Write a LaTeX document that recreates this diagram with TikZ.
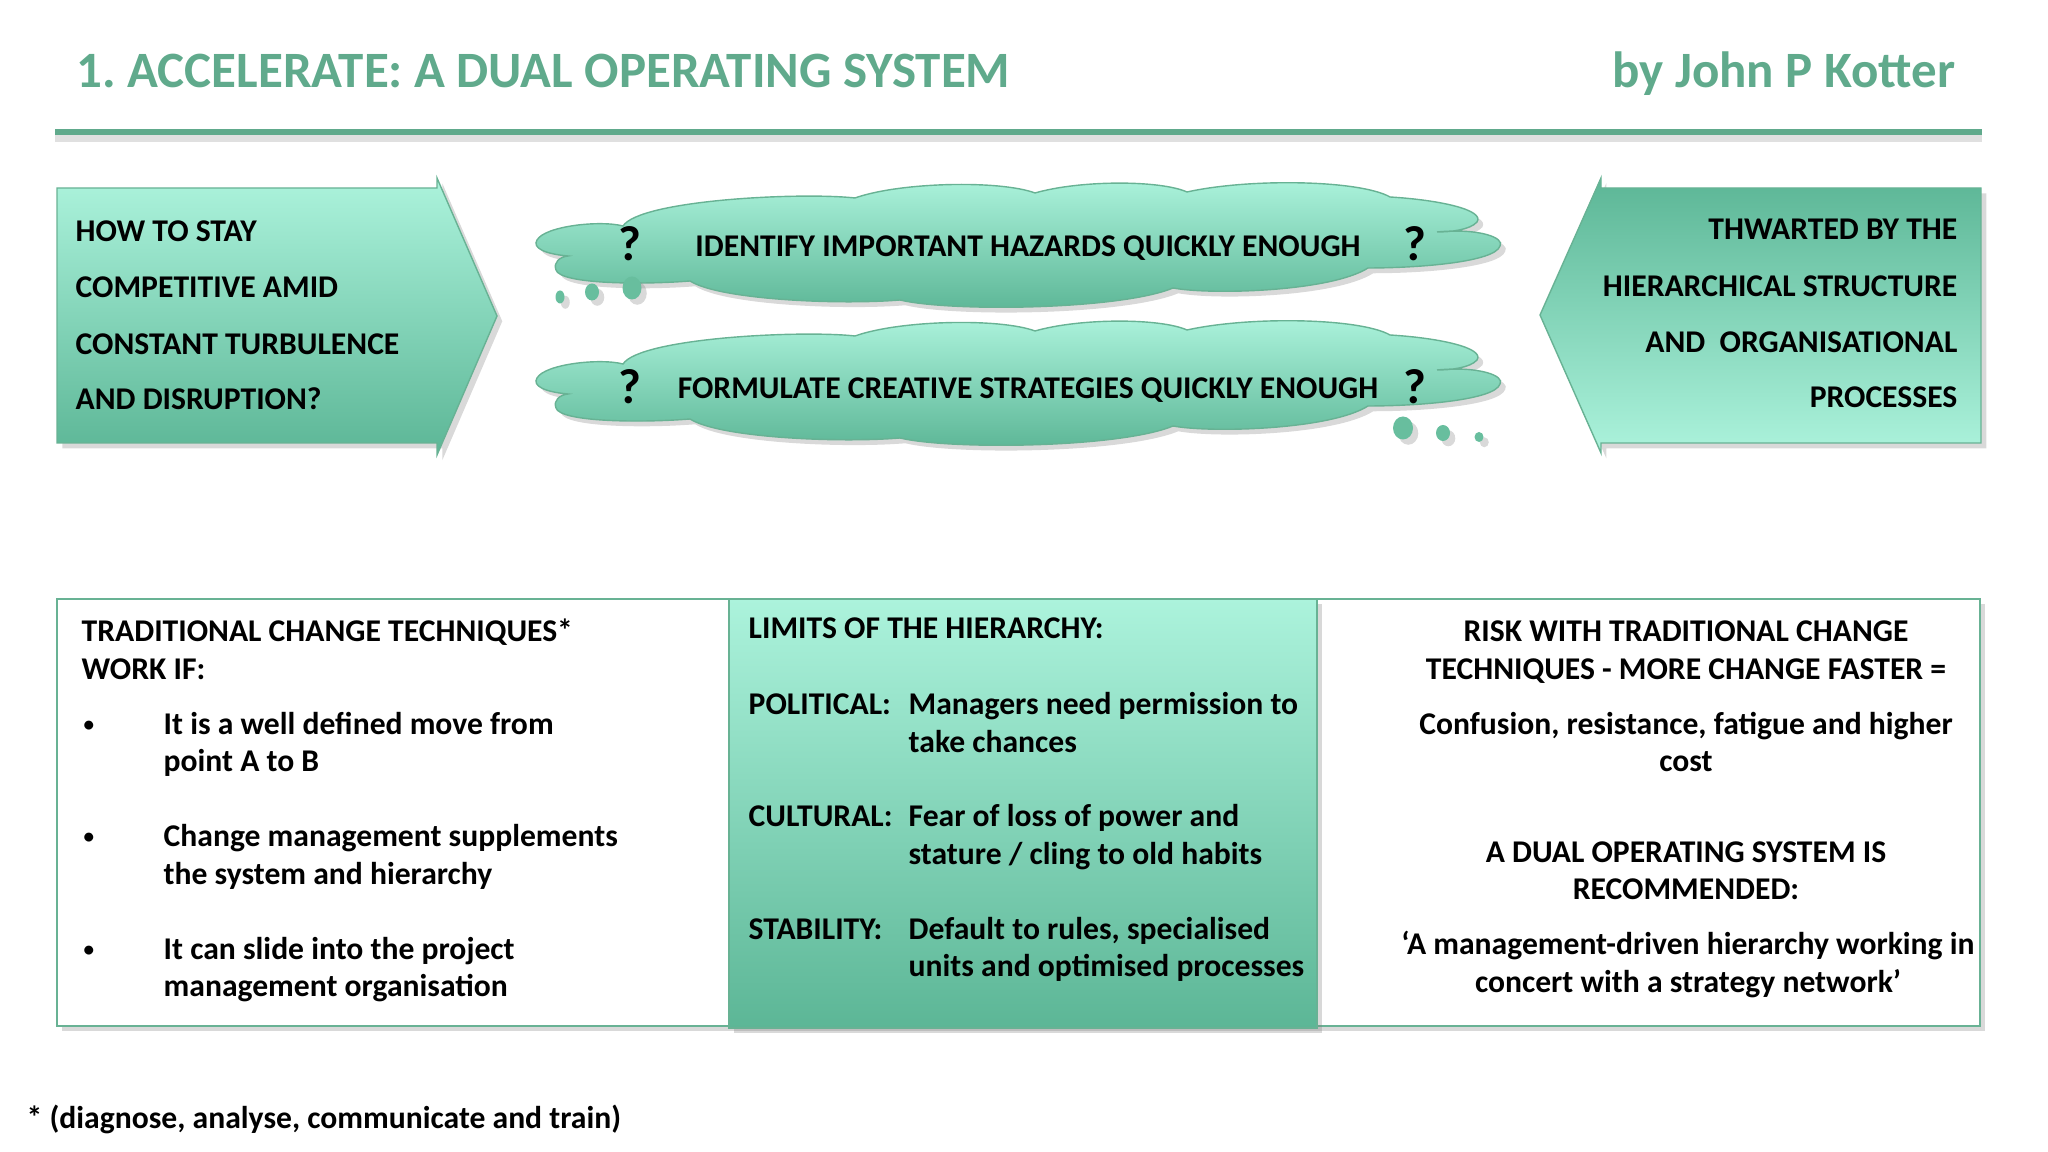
\documentclass[tikz,border=0pt]{standalone}
\usepackage{fontspec}
\setmainfont{Carlito}
\usepackage{xcolor}
\usetikzlibrary{shadows}

\definecolor{kgreen}{RGB}{96,170,140}
\definecolor{mintlight}{RGB}{172,243,220}
\definecolor{mintdark}{RGB}{92,182,150}
\definecolor{mintedge}{RGB}{104,178,148}
\definecolor{bubblegreen}{RGB}{104,190,158}

\tikzset{
  txt/.style={font=\bfseries\fontsize{9}{11}\selectfont, inner sep=0pt, anchor=base west},
  txtr/.style={txt, anchor=base east},
  txtc/.style={txt, anchor=base},
  headtxt/.style={txt, font=\bfseries\fontsize{14.5}{17}\selectfont, text=kgreen},
  qmark/.style={font=\bfseries\fontsize{14}{16}\selectfont, inner sep=0pt},
  shadowed/.style={drop shadow={opacity=0.3, shadow xshift=1.5pt, shadow yshift=-1.5pt}},
}
\newcommand{\smallbullet}{{\fontsize{6}{7}\selectfont\raisebox{0.9pt}{•}}}

\begin{document}
\frenchspacing
\begin{tikzpicture}[x=0.1mm, y=-0.1mm]
    \useasboundingbox (0,0) rectangle (2048,1152);

    % title and rule
    \node[headtxt] (title) at (76,88) {1. ACCELERATE: A DUAL OPERATING SYSTEM};
    \node[headtxt, anchor=base east] (author) at (1956,88) {by John P Kotter};
    \fill[black!12] (55,135) rectangle (1982,142);
    \fill[kgreen] (55,129) rectangle (1982,135);

    % left arrow
    \shade[top color=mintlight, bottom color=mintdark, draw=mintedge, shadowed]
        (57,188) -- (437,188) -- (437,178) -- (497,316) -- (437,455) -- (437,443) -- (57,443) -- cycle;
    \node[txt] (stay1) at (75,242) {HOW TO STAY};
    \node[txt] (stay2) at (75,298) {COMPETITIVE AMID};
    \node[txt] (stay3) at (75,355) {CONSTANT TURBULENCE};
    \node[txt] (stay4) at (75,410) {AND DISRUPTION?};

    % right arrow
    \shade[top color=mintdark, bottom color=mintlight, draw=mintedge, shadowed]
        (1981,188) -- (1601,188) -- (1601,178) -- (1540,315) -- (1601,453) -- (1601,443) -- (1981,443) -- cycle;
    \node[txtr] (thw1) at (1958,240) {THWARTED BY THE};
    \node[txtr] (thw2) at (1958,297) {HIERARCHICAL STRUCTURE};
    \node[txtr] (thw3) at (1958,353) {AND\ \ ORGANISATIONAL};
    \node[txtr] (thw4) at (1958,408) {PROCESSES};

    % thought clouds
    \foreach \dy in {0,138} {
      \begin{scope}[shift={(0,\dy)}]
        \shade[top color=mintlight, bottom color=mintdark, draw=mintedge, shadowed]
          (623,226) .. controls (640,200) and (800,192) .. (855,198)
          .. controls (900,182) and (1000,180) .. (1035,193)
          .. controls (1080,180) and (1160,180) .. (1187,192)
          .. controls (1250,178) and (1360,180) .. (1390,197)
          .. controls (1440,200) and (1485,210) .. (1477,222)
          .. controls (1470,230) and (1450,232) .. (1437,232)
          .. controls (1480,228) and (1505,238) .. (1500,246)
          .. controls (1495,262) and (1420,268) .. (1368,268)
          .. controls (1330,292) and (1210,295) .. (1173,288)
          .. controls (1120,310) and (950,312) .. (900,300)
          .. controls (840,305) and (720,300) .. (690,281)
          .. controls (640,285) and (560,284) .. (556,270)
          .. controls (553,262) and (560,257) .. (568,256)
          .. controls (545,254) and (532,248) .. (537,240)
          .. controls (545,226) and (600,220) .. (623,226) -- cycle;
      \end{scope}
    }
    \node[txtc] (hazards) at (1028,257) {IDENTIFY IMPORTANT HAZARDS QUICKLY ENOUGH};
    \node[txtc] (strategies) at (1028,399) {FORMULATE CREATIVE STRATEGIES QUICKLY ENOUGH};
    \node[qmark] (qA1) at (630,244) {?};
    \node[qmark] (qA2) at (1415,244) {?};
    \node[qmark] (qB1) at (630,387) {?};
    \node[qmark] (qB2) at (1415,387) {?};
    \fill[bubblegreen, shadowed] (560,297) ellipse [x radius=0.45mm, y radius=0.65mm];
    \fill[bubblegreen, shadowed] (592,292) ellipse [x radius=0.7mm, y radius=0.85mm];
    \fill[bubblegreen, shadowed] (632,288) ellipse [x radius=0.95mm, y radius=1.15mm];
    \fill[bubblegreen, shadowed] (1403,428) ellipse [x radius=1mm, y radius=1.15mm];
    \fill[bubblegreen, shadowed] (1443,433) ellipse [x radius=0.7mm, y radius=0.8mm];
    \fill[bubblegreen, shadowed] (1479,437) ellipse [x radius=0.45mm, y radius=0.5mm];

    % bottom panels
    \draw[mintedge, line width=0.8pt, fill=white, shadowed] (57,599) rectangle (1980,1026);
    \shade[top color=mintlight, bottom color=mintdark, draw=mintedge, shadowed] (729,599) rectangle (1317,1028);

    \node[txt] (tradA) at (81,642) {TRADITIONAL CHANGE TECHNIQUES*};
    \node[txt] (tradB) at (81,680) {WORK IF:};
    \node[txt] (dot1) at (83,735) {\smallbullet};
    \node[txt] (dot2) at (83,847) {\smallbullet};
    \node[txt] (dot3) at (83,960) {\smallbullet};
    \node[txt] (ifA1) at (163,735) {It is a well defined move from};
    \node[txt] (ifA2) at (163,772) {point A to B};
    \node[txt] (ifB1) at (163,847) {Change management supplements};
    \node[txt] (ifB2) at (163,885) {the system and hierarchy};
    \node[txt] (ifC1) at (163,960) {It can slide into the project};
    \node[txt] (ifC2) at (163,997) {management organisation};

    \node[txt] (limits) at (748,639) {LIMITS OF THE HIERARCHY:};
    \node[txt] (polit) at (748,715) {POLITICAL:};
    \node[txt] (politA) at (908,715) {Managers need permission to};
    \node[txt] (politB) at (908,753) {take chances};
    \node[txt] (cult) at (748,827) {CULTURAL:};
    \node[txt] (cultA) at (908,827) {Fear of loss of power and};
    \node[txt] (cultB) at (908,865) {stature / cling to old habits};
    \node[txt] (stab) at (748,940) {STABILITY:};
    \node[txt] (stabA) at (908,940) {Default to rules, specialised};
    \node[txt] (stabB) at (908,977) {units and optimised processes};

    \node[txtc] (riskA) at (1686,642) {RISK WITH TRADITIONAL CHANGE};
    \node[txtc] (riskB) at (1686,680) {TECHNIQUES - MORE CHANGE FASTER =};
    \node[txtc] (confA) at (1686,735) {Confusion, resistance, fatigue and higher};
    \node[txtc] (confB) at (1686,772) {cost};
    \node[txtc] (dualA) at (1686,863) {A DUAL OPERATING SYSTEM IS};
    \node[txtc] (dualB) at (1686,900) {RECOMMENDED:};
    \node[txtc] (quoteA) at (1688,955) {‘A management-driven hierarchy working in};
    \node[txtc] (quoteB) at (1688,993) {concert with a strategy network’};

    % footnote
    \node[txt] (foot) at (26,1128) {* (diagnose, analyse, communicate and train)};
\end{tikzpicture}
\end{document}
